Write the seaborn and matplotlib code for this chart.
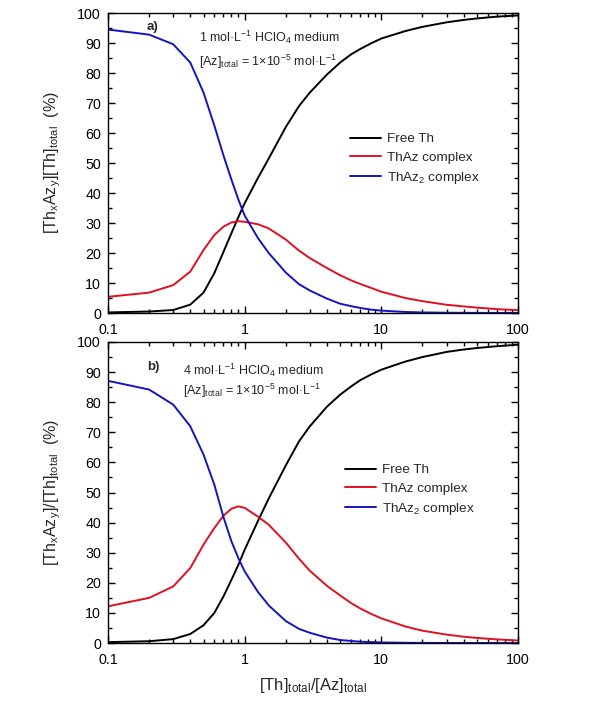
import matplotlib
matplotlib.use("Agg")
import matplotlib.pyplot as plt
import matplotlib.ticker as mticker
import pandas as pd
import seaborn as sns

# [Th]total/[Az]total
ratio = [0.1, 0.2, 0.3, 0.4, 0.5, 0.6, 0.7, 0.8, 0.9, 1.0, 1.25, 1.5, 2, 2.5, 3, 4, 5, 6, 7,
         8.5, 10, 15, 20, 30, 40, 50, 70, 100]

# panel a) 1 mol/L HClO4
free_th_a = [0.2, 0.5, 1.0, 2.8, 6.8, 13.3, 20.4, 26.6, 32.0, 36.6, 45.0, 51.5, 62.0, 69.0,
             73.5, 79.5, 83.5, 86.2, 88.0, 90.0, 91.5, 94.0, 95.4, 96.9, 97.7, 98.2, 98.8, 99.2]
thaz_a = [5.4, 6.8, 9.3, 13.8, 21.0, 26.0, 28.8, 30.2, 30.6, 30.4, 29.6, 28.2, 24.5, 20.8,
          18.3, 15.0, 12.6, 10.9, 9.7, 8.3, 7.1, 5.0, 3.95, 2.75, 2.2, 1.8, 1.3, 0.95]
thaz2_a = [94.5, 92.8, 89.6, 83.5, 73.5, 62.5, 52.5, 44.5, 37.8, 32.5, 25.0, 20.0, 13.5, 9.6,
           7.5, 4.8, 3.1, 2.3, 1.7, 1.1, 0.8, 0.35, 0.2, 0.1, 0.07, 0.05, 0.03, 0.02]

# panel b) 4 mol/L HClO4
free_th_b = [0.3, 0.6, 1.3, 3.0, 5.9, 10.0, 15.5, 21.0, 26.0, 31.0, 40.5, 48.0, 59.0, 67.0,
             72.0, 78.5, 82.5, 85.2, 87.3, 89.3, 90.8, 93.5, 95.0, 96.7, 97.5, 98.0, 98.6, 99.1]
thaz_b = [12.2, 15.0, 18.8, 24.9, 32.7, 38.2, 42.3, 44.6, 45.4, 44.9, 42.0, 39.3, 33.4, 28.0,
          24.0, 19.0, 15.8, 13.3, 11.5, 9.6, 8.2, 5.5, 4.1, 2.8, 2.1, 1.7, 1.2, 0.85]
thaz2_b = [87.1, 84.2, 79.2, 72.0, 62.6, 52.6, 41.8, 33.8, 28.2, 23.8, 17.0, 12.5, 7.3, 4.7,
           3.4, 1.8, 1.0, 0.7, 0.45, 0.3, 0.2, 0.08, 0.05, 0.02, 0.01, 0.01, 0.0, 0.0]

species = ["Free Th", "ThAz complex", r"ThAz$\mathregular{_2}$ complex"]
colors = ["black", "#e01020", "#1414c0"]


def make_frame(free, thaz, thaz2):
    df = pd.DataFrame({"ratio": ratio, species[0]: free, species[1]: thaz, species[2]: thaz2})
    return df.melt(id_vars="ratio", var_name="species", value_name="pct")


def draw_panel(ax, df, tag, medium, ylabel, text_x, leg_xy):
    sns.lineplot(data=df, x="ratio", y="pct", hue="species", hue_order=species,
                 palette=colors, linewidth=1.4, ax=ax, sort=True)
    ax.set_xscale("log")
    ax.set_xlim(0.1, 100)
    ax.set_ylim(0, 100)
    ax.xaxis.set_major_locator(mticker.FixedLocator([0.1, 1, 10, 100]))
    ax.xaxis.set_major_formatter(mticker.FuncFormatter(lambda v, p: f"{v:g}"))
    ax.xaxis.set_minor_locator(mticker.LogLocator(base=10, subs=range(2, 10)))
    ax.xaxis.set_minor_formatter(mticker.NullFormatter())
    ax.yaxis.set_major_locator(mticker.MultipleLocator(10))
    ax.yaxis.set_minor_locator(mticker.MultipleLocator(5))
    ax.tick_params(which="both", direction="in", top=True, right=True, colors="black",
                   labelsize=10.3, width=1)
    ax.tick_params(which="major", length=5)
    ax.tick_params(which="minor", length=3)
    ax.tick_params(axis="x", which="major", pad=7)
    ax.tick_params(axis="y", which="major", pad=5)
    for sp in ax.spines.values():
        sp.set_visible(True)
        sp.set_color("black")
        sp.set_linewidth(1)
    ax.set_xlabel("")
    ax.set_ylabel(ylabel, fontsize=11.5)
    ax.yaxis.set_label_coords(-0.11, 0.5)

    ax.text(0.095, tag[1], tag[0], transform=ax.transAxes, fontsize=9.5,
            fontweight="bold", va="center", ha="left")
    ax.text(text_x, medium[1], medium[0], transform=ax.transAxes, fontsize=9,
            va="center", ha="left")
    ax.text(text_x, medium[3], medium[2], transform=ax.transAxes, fontsize=9,
            va="center", ha="left")

    handles, labels = ax.get_legend_handles_labels()
    ax.legend(handles, labels, loc="upper left", bbox_to_anchor=leg_xy, frameon=False,
              fontsize=9.7, handlelength=2.3, handletextpad=0.45, labelspacing=0.45,
              borderpad=0, borderaxespad=0)


fig = plt.figure(figsize=(6.02, 7.05), dpi=100)
sns.set_theme(style="ticks")
plt.rcParams["font.family"] = ["Liberation Sans", "DejaVu Sans"]
plt.rcParams["mathtext.fontset"] = "custom"
plt.rcParams["mathtext.rm"] = "Liberation Sans"
plt.rcParams["mathtext.it"] = "Liberation Sans:italic"
plt.rcParams["mathtext.bf"] = "Liberation Sans:bold"

ax_a = fig.add_axes([0.1794, 0.556, 0.681, 0.4255])
ax_b = fig.add_axes([0.1794, 0.0879, 0.681, 0.427])

draw_panel(
    ax_a, make_frame(free_th_a, thaz_a, thaz2_a), ("a)", 0.953),
    (r"1 mol·L$\mathregular{^{-1}}$ HClO$\mathregular{_4}$ medium", 0.918,
     r"[Az]$\mathregular{_{total}}$ = 1×10$\mathregular{^{-5}}$ mol·L$\mathregular{^{-1}}$", 0.838),
    r"[Th$\mathregular{_x}$Az$\mathregular{_y}$][Th]$\mathregular{_{total}}$  (%)",
    0.222, (0.59, 0.60),
)
draw_panel(
    ax_b, make_frame(free_th_b, thaz_b, thaz2_b), ("b)", 0.917),
    (r"4 mol·L$\mathregular{^{-1}}$ HClO$\mathregular{_4}$ medium", 0.905,
     r"[Az]$\mathregular{_{total}}$ = 1×10$\mathregular{^{-5}}$ mol·L$\mathregular{^{-1}}$", 0.838),
    r"[Th$\mathregular{_x}$Az$\mathregular{_y}$]/[Th]$\mathregular{_{total}}$  (%)",
    0.183, (0.578, 0.595),
)
ax_b.set_xlabel(r"[Th]$\mathregular{_{total}}$/[Az]$\mathregular{_{total}}$", fontsize=12)
ax_b.xaxis.set_label_coords(0.5, -0.14)
ax_b.xaxis.label.set_va("center")

fig.savefig("out.png", dpi=100)
